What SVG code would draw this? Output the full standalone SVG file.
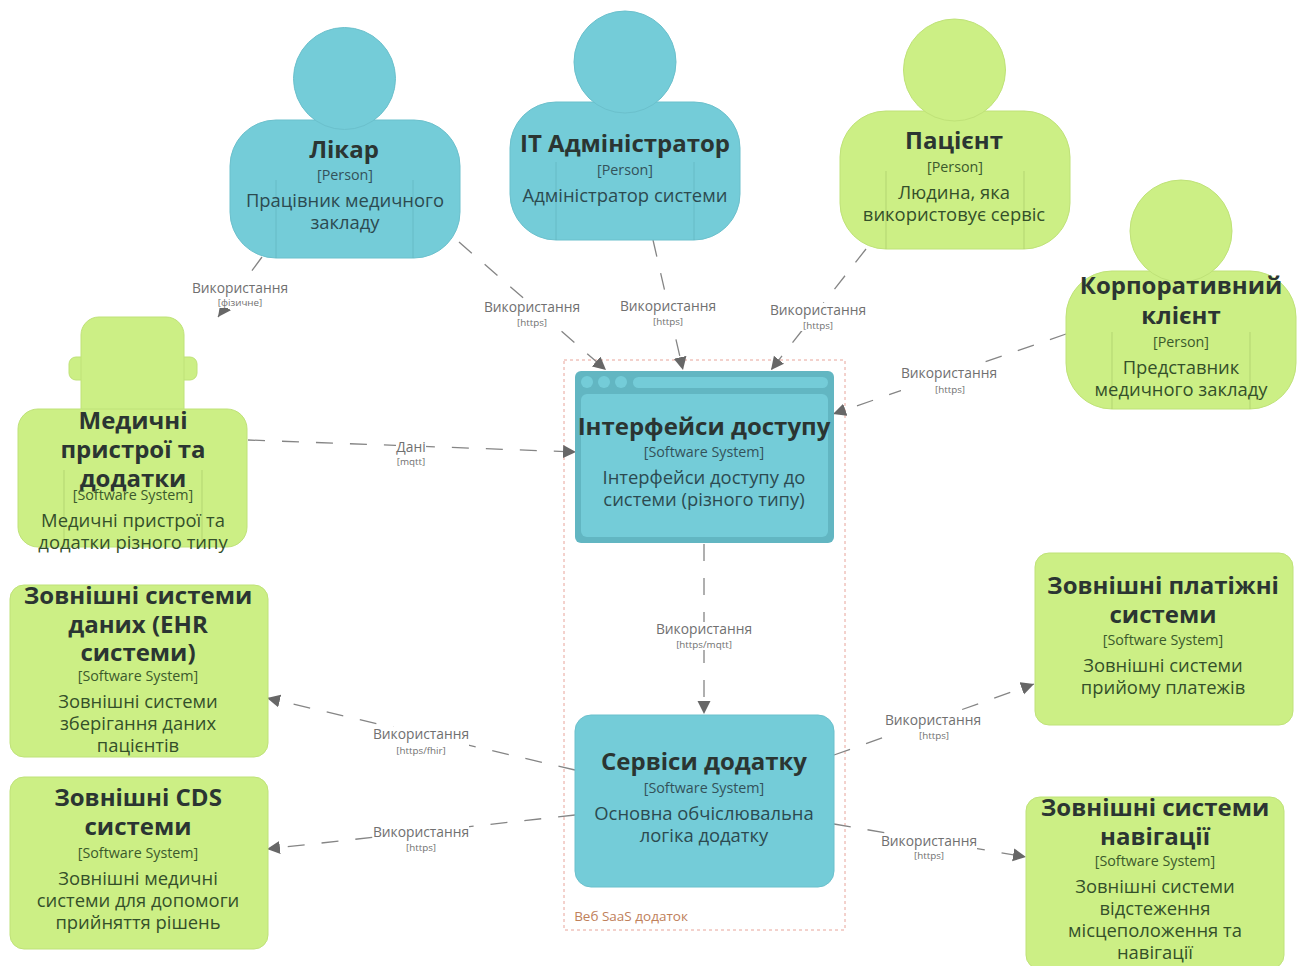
<svg xmlns="http://www.w3.org/2000/svg" width="1298" height="966" viewBox="0 0 1298 966">
<style>
text{font-family:"Open Sans","Noto Sans","DejaVu Sans",sans-serif;text-anchor:middle}
.t{font-size:24px;font-weight:700;fill:#2b3532}
.k{font-size:14.300px;fill:#33525a}
.d{font-size:18.400px;fill:#2c4a50}
.kg{fill:#3b5a2c}.dg{fill:#34502a}
.b{fill:#74ccd8;stroke:#6bc0cc;stroke-width:1}
.g{fill:#ccef85;stroke:#bfe278;stroke-width:1}
.lb{fill:none;stroke:#5fb0bc;stroke-width:1;opacity:.6}
.lg{fill:none;stroke:#aed06c;stroke-width:1;opacity:.8}
.c{fill:none;stroke:#858585;stroke-width:1.300;stroke-dasharray:17 17;marker-end:url(#a)}
.l1{font-size:13.800px;fill:#707070}
.l2{font-size:9.800px;fill:#707070}
</style>
<defs><marker id="a" markerUnits="userSpaceOnUse" markerWidth="14" markerHeight="14" refX="13" refY="6.500" orient="auto"><path d="M0 0L13 6.500L0 13z" fill="#676767"/></marker></defs>
<rect width="1298" height="966" fill="#fff"/>
<rect id="boundary" x="564" y="360" width="281" height="570" fill="none" stroke="#e8a49a" stroke-width="1" stroke-dasharray="3 3"/>
<text x="631" y="921" style="font-size:13.500px;fill:#c0805a">Веб SaaS додаток</text>
<g id="connectors">
<path class="c" d="M262 257L218 317"/>
<path class="c" d="M459 242L606 370"/>
<path class="c" d="M653 240L683 370"/>
<path class="c" d="M866 249L771 370"/>
<path class="c" d="M1066 334L833 414"/>
<path class="c" d="M248 440L576 452"/>
<path class="c" d="M704 544L704 714"/>
<path class="c" d="M575 770L267 698"/>
<path class="c" d="M575 815L267 849"/>
<path class="c" d="M834 755L1034 684"/>
<path class="c" d="M834 824L1026 857"/>
</g>
<g id="connector-labels">
<g fill="#fff"><rect x="192" y="280" width="96" height="28"/><rect x="484" y="300" width="96" height="28"/><rect x="620" y="299" width="96" height="28"/><rect x="770" y="303" width="96" height="28"/><rect x="901" y="366" width="96" height="28"/><rect x="396" y="440" width="30" height="28"/><rect x="656" y="622" width="96" height="28"/><rect x="373" y="727" width="96" height="28"/><rect x="373" y="825" width="96" height="28"/><rect x="885" y="713" width="96" height="28"/><rect x="881" y="834" width="96" height="28"/></g>
<text class="l1" x="240" y="293">Використання</text><text class="l2" x="240" y="306">[фізичне]</text>
<text class="l1" x="532" y="312">Використання</text><text class="l2" x="532" y="326">[https]</text>
<text class="l1" x="668" y="311">Використання</text><text class="l2" x="668" y="325">[https]</text>
<text class="l1" x="818" y="315">Використання</text><text class="l2" x="818" y="329">[https]</text>
<text class="l1" x="949" y="378">Використання</text><text class="l2" x="950" y="393">[https]</text>
<text class="l1" x="411" y="452">Дані</text><text class="l2" x="411" y="465">[mqtt]</text>
<text class="l1" x="704" y="634">Використання</text><text class="l2" x="704" y="648">[https/mqtt]</text>
<text class="l1" x="421" y="739">Використання</text><text class="l2" x="421" y="754">[https/fhir]</text>
<text class="l1" x="421" y="837">Використання</text><text class="l2" x="421" y="851">[https]</text>
<text class="l1" x="933" y="725">Використання</text><text class="l2" x="934" y="739">[https]</text>
<text class="l1" x="929" y="846">Використання</text><text class="l2" x="929" y="859">[https]</text>
</g>
<g id="likar">
<rect class="b" x="230" y="120" width="230" height="138" rx="46"/><circle class="b" cx="344.500" cy="78.500" r="51"/>
<path class="lb" d="M276 180V258M413 180V258"/>
<text class="t" x="344" y="158">Лікар</text><text class="k" x="345" y="180">[Person]</text>
<text class="d" x="345" y="207">Працівник медичного</text><text class="d" x="345" y="229">закладу</text>
</g>
<g id="it-admin">
<rect class="b" x="510" y="102" width="230" height="138" rx="46"/><circle class="b" cx="625" cy="62" r="51"/>
<path class="lb" d="M556 162V240M694 162V240"/>
<text class="t" x="625" y="152">IT Адміністратор</text><text class="k" x="625" y="175">[Person]</text>
<text class="d" x="625" y="202">Адміністратор системи</text>
</g>
<g id="patient">
<rect class="g" x="840" y="111" width="230" height="138" rx="46"/><circle class="g" cx="954.500" cy="70" r="51"/>
<path class="lg" d="M886 171V249M1024 171V249"/>
<text class="t" x="954" y="149">Пацієнт</text><text class="k kg" x="955" y="172">[Person]</text>
<text class="d dg" x="954" y="199">Людина, яка</text><text class="d dg" x="954" y="221">використовує сервіс</text>
</g>
<g id="corporate">
<rect class="g" x="1066" y="271" width="230" height="138" rx="46"/><circle class="g" cx="1181" cy="231" r="51"/>
<path class="lg" d="M1112 332V409M1250 332V409"/>
<text class="t" x="1181" y="294">Корпоративний</text><text class="t" x="1181" y="324">клієнт</text><text class="k kg" x="1181" y="347">[Person]</text>
<text class="d dg" x="1181" y="374">Представник</text><text class="d dg" x="1181" y="396">медичного закладу</text>
</g>
<g id="devices">
<rect class="g" x="69" y="357" width="128" height="23" rx="7"/><rect class="g" x="81" y="317" width="103" height="110" rx="18"/>
<rect class="g" x="18" y="409" width="229" height="138" rx="20"/>
<path class="lg" d="M64 470V547M202 470V547"/>
<text class="t" x="133" y="429">Медичні</text><text class="t" x="133" y="458">пристрої та</text><text class="t" x="133" y="487">додатки</text>
<text class="k kg" x="133" y="500">[Software System]</text>
<text class="d dg" x="133" y="527">Медичні пристрої та</text><text class="d dg" x="133" y="549">додатки різного типу</text>
</g>
<g id="interfaces">
<rect x="575" y="371" width="259" height="172" rx="6" fill="#62b6c2"/>
<circle cx="587" cy="382" r="6" fill="#74ccd8"/><circle cx="604" cy="382" r="6" fill="#74ccd8"/><circle cx="621" cy="382" r="6" fill="#74ccd8"/>
<rect x="633" y="377" width="195" height="11" rx="5.500" fill="#74ccd8"/>
<rect x="581" y="394" width="247" height="143" rx="6" fill="#74ccd8"/>
<text class="t" x="704" y="435">Інтерфейси доступу</text><text class="k" x="704" y="457">[Software System]</text>
<text class="d" x="704" y="484">Інтерфейси доступу до</text><text class="d" x="704" y="506">системи (різного типу)</text>
</g>
<g id="services">
<rect class="b" x="575" y="715" width="259" height="172" rx="16"/>
<text class="t" x="704" y="770">Сервіси додатку</text><text class="k" x="704" y="793">[Software System]</text>
<text class="d" x="704" y="820">Основна обчіслювальна</text><text class="d" x="704" y="842">логіка додатку</text>
</g>
<g id="ehr">
<rect class="g" x="10" y="585" width="258" height="172" rx="14"/>
<text class="t" x="138" y="604">Зовнішні системи</text><text class="t" x="138" y="633">даних (EHR</text><text class="t" x="138" y="661">системи)</text>
<text class="k kg" x="138" y="681">[Software System]</text>
<text class="d dg" x="138" y="708">Зовнішні системи</text><text class="d dg" x="138" y="730">зберігання даних</text><text class="d dg" x="138" y="752">пацієнтів</text>
</g>
<g id="cds">
<rect class="g" x="10" y="777" width="258" height="172" rx="14"/>
<text class="t" x="138" y="806">Зовнішні CDS</text><text class="t" x="138" y="835">системи</text>
<text class="k kg" x="138" y="858">[Software System]</text>
<text class="d dg" x="138" y="885">Зовнішні медичні</text><text class="d dg" x="138" y="907">системи для допомоги</text><text class="d dg" x="138" y="929">прийняття рішень</text>
</g>
<g id="payments">
<rect class="g" x="1035" y="553" width="258" height="172" rx="14"/>
<text class="t" x="1163" y="594">Зовнішні платіжні</text><text class="t" x="1163" y="623">системи</text>
<text class="k kg" x="1163" y="645">[Software System]</text>
<text class="d dg" x="1163" y="672">Зовнішні системи</text><text class="d dg" x="1163" y="694">прийому платежів</text>
</g>
<g id="navigation">
<rect class="g" x="1026" y="797" width="258" height="172" rx="14"/>
<text class="t" x="1155" y="816">Зовнішні системи</text><text class="t" x="1155" y="845">навігації</text>
<text class="k kg" x="1155" y="866">[Software System]</text>
<text class="d dg" x="1155" y="893">Зовнішні системи</text><text class="d dg" x="1155" y="915">відстеження</text><text class="d dg" x="1155" y="937">місцеположення та</text><text class="d dg" x="1155" y="959">навігації</text>
</g>
</svg>
